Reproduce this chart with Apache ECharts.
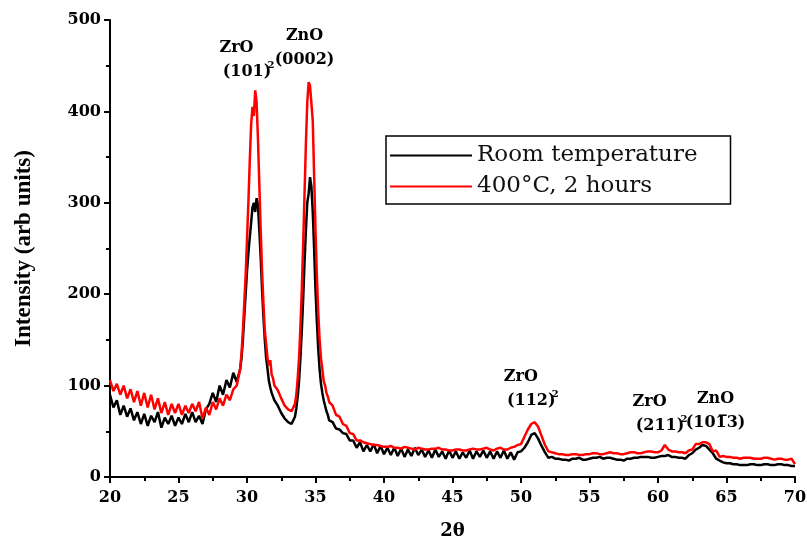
<!DOCTYPE html>
<html>
<head>
<meta charset="utf-8">
<script src="https://cdn.jsdelivr.net/npm/echarts@6/dist/echarts.min.js"></script>
<style>
  html, body { margin: 0; padding: 0; background: #fff; }
  #main { width: 807px; height: 541px; }
</style>
</head>
<body>
<div id="main"></div>
<script>
// 2 theta (deg)
var twoTheta = [
  20,20.25,20.5,20.75,21,21.25,21.5,21.75,22,22.25,22.5,22.75,23,23.25,23.5,23.75,24,24.25,24.5,24.75,
  25,25.25,25.5,25.75,26,26.25,26.5,26.75,27,27.25,27.5,27.75,28,28.25,28.5,28.75,29,29.25,29.5,
  29.6,29.7,29.8,29.9,30,30.1,30.2,30.3,30.4,30.5,30.6,30.7,30.8,30.9,31,31.1,31.2,31.3,31.4,31.5,31.6,31.7,31.8,31.9,32,
  32.25,32.5,32.75,33,33.25,33.5,
  33.6,33.7,33.8,33.9,34,34.1,34.2,34.3,34.4,34.5,34.6,34.7,34.8,34.9,35,35.1,35.2,35.3,35.4,35.5,35.6,35.7,35.8,35.9,36,
  36.25,36.5,36.75,37,37.25,37.5,37.75,38,38.25,38.5,38.75,39,39.25,39.5,39.75,40,
  40.25,40.5,40.75,41,41.25,41.5,41.75,42,42.25,42.5,42.75,43,43.25,43.5,43.75,44,
  44.25,44.5,44.75,45,45.25,45.5,45.75,46,46.25,46.5,46.75,47,47.25,47.5,47.75,48,
  48.25,48.5,48.75,49,49.25,49.5,49.75,50,50.25,50.5,50.75,51,51.25,51.5,51.75,52,
  52.25,52.5,52.75,53,53.25,53.5,53.75,54,54.25,54.5,54.75,55,55.25,55.5,55.75,56,
  56.25,56.5,56.75,57,57.25,57.5,57.75,58,58.25,58.5,58.75,59,59.25,59.5,59.75,60,
  60.25,60.5,60.75,61,61.25,61.5,61.75,62,62.25,62.5,62.75,63,63.25,63.5,63.75,64,
  64.25,64.5,64.75,65,65.25,65.5,65.75,66,66.25,66.5,66.75,67,67.25,67.5,67.75,68,
  68.25,68.5,68.75,69,69.25,69.5,69.75,70
];

// Room temperature
var roomTemp = [
  90,76,84,68,78,66,75,62,71,58,69,56,67,60,71,54,65,58,67,56,
  65,58,69,60,71,60,67,58,74,80,92,82,100,90,106,98,114,104,118,
  130,150,175,200,225,245,262,278,295,300,290,305,298,270,240,205,175,150,130,118,105,98,92,88,84,
  78,70,64,60,58,66,
  75,88,105,130,160,195,235,270,300,310,328,318,290,250,205,170,140,118,102,92,84,78,72,68,62,
  60,53,52,48,47,40,40,32,38,28,35,28,36,26,34,25,
  32,24,32,23,31,22,30,23,32,24,30,22,29,21,30,22,
  28,20,29,21,28,20,27,21,29,20,28,22,29,21,28,20,
  28,21,29,20,27,19,27,28,32,38,46,48,42,34,27,21,
  22,20,20,19,19,18,20,20,21,19,19,20,21,21,22,20,
  21,21,20,19,19,18,20,20,21,21,22,22,22,21,21,22,
  23,23,24,22,22,21,21,20,24,26,30,32,35,34,30,26,
  20,18,16,15,15,14,14,13,13,13,14,14,13,13,14,14,
  13,13,14,14,13,13,12,12
];

// 400 C, 2 hours
var annealed = [
  106,94,102,90,100,86,96,82,94,78,92,76,90,74,86,70,82,68,80,70,
  80,68,78,70,80,72,82,64,76,68,82,74,86,78,90,84,96,100,118,
  135,160,190,220,260,300,345,385,405,395,423,410,370,320,270,225,190,160,145,130,122,128,112,108,100,
  95,86,78,74,72,80,
  90,108,130,165,205,255,310,365,410,432,428,430,390,330,270,220,180,150,130,118,105,100,92,88,82,
  78,68,66,58,56,48,47,40,40,38,37,36,35,35,34,33,
  33,34,32,32,31,33,32,31,30,32,31,30,30,31,31,32,
  30,30,29,29,30,30,29,29,30,31,30,30,31,32,30,29,
  31,32,30,30,32,33,35,36,44,52,58,60,55,45,35,28,
  27,26,25,25,24,24,25,25,24,24,25,25,26,26,25,25,
  26,27,26,26,25,25,26,27,27,26,26,27,28,28,27,27,
  29,35,30,28,28,27,27,26,29,30,36,36,38,38,36,28,
  29,22,23,22,22,21,21,20,21,21,21,20,20,20,21,21,
  20,19,20,20,19,19,20,14
];

var seriesNames = ['Room temperature', '400\u00B0C, 2 hours'];

// peak labels: [2theta, intensity, phase, plane]
var peakLabels = [
  [30.0, 456, 'ZrO', '(101)'],
  [34.2, 470, 'ZnO', '(0002)'],
  [50.75, 96, 'ZrO', '(112)'],
  [60.15, 69, 'ZrO', '(211)'],
  [64.2, 72, 'ZnO', '(101\u03053)']
];

function pairs(xs, ys) {
  var out = [];
  for (var i = 0; i < xs.length; i++) out.push([xs[i], ys[i]]);
  return out;
}

var tickFont = {fontFamily: 'DejaVu Serif', fontWeight: 'bold', fontSize: 16, color: '#000'};

var markData = peakLabels.map(function (p) {
  var sub = p[2] === 'ZrO' ? '{s|2}' : '';
  return {
    coord: [p[0], p[1]],
    label: {formatter: '{b|' + p[2] + '}' + sub + '\n{b|' + p[3] + '}'}
  };
});

var myChart = echarts.init(document.getElementById('main'));
var option = {
  animation: false,
  backgroundColor: '#fff',
  grid: {left: 110, right: 12, top: 20, bottom: 64, outerBoundsMode: 'none'},
  legend: {
    orient: 'vertical',
    left: 386,
    top: 136,
    padding: [8, 33, 6, 4],
    itemGap: 8,
    itemWidth: 82,
    itemHeight: 2,
    icon: 'rect',
    borderColor: '#000',
    borderWidth: 1.5,
    data: seriesNames,
    textStyle: {fontFamily: 'DejaVu Serif', fontSize: 23, color: '#111'}
  },
  xAxis: {
    type: 'value',
    min: 20, max: 70, interval: 5,
    name: '2\u03B8',
    nameLocation: 'middle',
    nameGap: 45,
    nameTextStyle: {fontFamily: 'DejaVu Serif', fontWeight: 'bold', fontSize: 18, color: '#000'},
    axisLine: {lineStyle: {color: '#000', width: 2}},
    axisTick: {length: 6, lineStyle: {color: '#000', width: 2}},
    minorTick: {show: true, splitNumber: 2, length: 4, lineStyle: {color: '#000', width: 2}},
    axisLabel: Object.assign({margin: 13}, tickFont),
    splitLine: {show: false}
  },
  yAxis: {
    type: 'value',
    min: 0, max: 500, interval: 100,
    name: 'Intensity (arb units)',
    nameLocation: 'middle',
    nameGap: 74,
    nameTextStyle: {fontFamily: 'Liberation Serif', fontWeight: 'bold', fontSize: 23, color: '#000'},
    axisLine: {show: true, lineStyle: {color: '#000', width: 2}},
    axisTick: {show: true, length: 6, lineStyle: {color: '#000', width: 2}},
    minorTick: {show: true, splitNumber: 2, length: 4, lineStyle: {color: '#000', width: 2}},
    axisLabel: Object.assign({margin: 9}, tickFont),
    splitLine: {show: false}
  },
  series: [
    {
      name: seriesNames[0],
      type: 'line',
      data: pairs(twoTheta, roomTemp),
      showSymbol: false,
      z: 2,
      color: '#000',
      lineStyle: {color: '#000', width: 2.5}
    },
    {
      name: seriesNames[1],
      type: 'line',
      data: pairs(twoTheta, annealed),
      showSymbol: false,
      z: 3,
      color: '#ff0000',
      lineStyle: {color: '#ff0000', width: 2.5},
      markPoint: {
        symbol: 'circle',
        symbolSize: 1,
        silent: true,
        itemStyle: {color: 'rgba(0,0,0,0)'},
        label: {
          show: true,
          position: 'inside',
          rich: {
            b: {fontFamily: 'DejaVu Serif', fontWeight: 'bold', fontSize: 16, color: '#000', lineHeight: 24},
            s: {fontFamily: 'DejaVu Serif', fontWeight: 'bold', fontSize: 10, color: '#000', lineHeight: 24, verticalAlign: 'bottom', padding: [0, 0, -10, 14]}
          }
        },
        data: markData
      }
    }
  ]
};
myChart.setOption(option);
</script>
</body>
</html>
